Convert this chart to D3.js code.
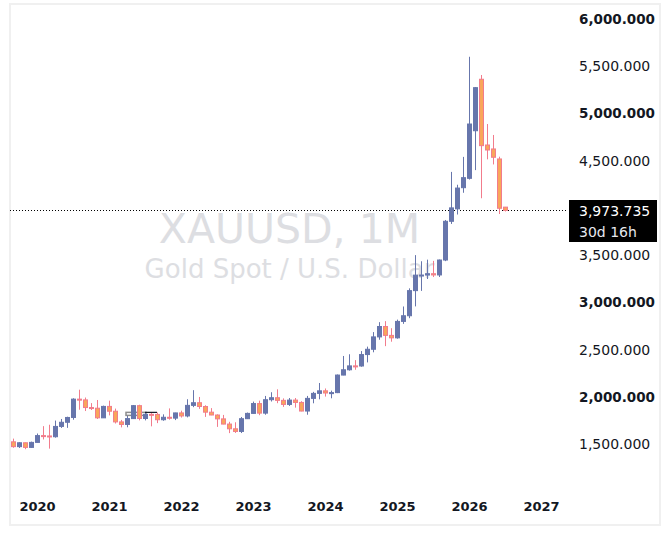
<!DOCTYPE html>
<html>
<head>
<meta charset="utf-8">
<script src="https://cdn.jsdelivr.net/npm/d3@7"></script>
<style>
  body { margin: 0; background: #fff; }
  svg { display: block; font-family: "DejaVu Sans", sans-serif; }
</style>
</head>
<body>
<svg class="chart"></svg>
<script>
// monthly XAUUSD candles
var months = [
  "2019-09","2019-10","2019-11","2019-12",
  "2020-01","2020-02","2020-03","2020-04","2020-05","2020-06","2020-07","2020-08","2020-09","2020-10","2020-11","2020-12",
  "2021-01","2021-02","2021-03","2021-04","2021-05","2021-06","2021-07","2021-08","2021-09","2021-10","2021-11","2021-12",
  "2022-01","2022-02","2022-03","2022-04","2022-05","2022-06","2022-07","2022-08","2022-09","2022-10","2022-11","2022-12",
  "2023-01","2023-02","2023-03","2023-04","2023-05","2023-06","2023-07","2023-08","2023-09","2023-10","2023-11","2023-12",
  "2024-01","2024-02","2024-03","2024-04","2024-05","2024-06","2024-07","2024-08","2024-09","2024-10","2024-11","2024-12",
  "2025-01","2025-02","2025-03","2025-04","2025-05","2025-06","2025-07","2025-08","2025-09","2025-10","2025-11","2025-12",
  "2026-01","2026-02","2026-03","2026-04","2026-05","2026-06","2026-07"
];

var opens = [
  1523, 1472, 1513, 1464,
  1517, 1589, 1585, 1577, 1686, 1730, 1781, 1975, 1967, 1886, 1879, 1777,
  1898, 1847, 1734, 1707, 1769, 1906, 1770, 1814, 1813, 1757, 1783, 1774,
  1829, 1797, 1909, 1937, 1897, 1837, 1807, 1766, 1711, 1661, 1633, 1768,
  1824, 1928, 1827, 1969, 1990, 1962, 1919, 1965, 1940, 1849, 1983, 2036,
  2063, 2040, 2044, 2230, 2286, 2327, 2326, 2447, 2503, 2634, 2744, 2650,
  2624, 2798, 2858, 3124, 3288, 3289, 3303, 3290, 3448, 3858, 3990, 4214,
  4313, 4817, 5362, 4666, 4624, 4518, 4008
];
var highs = [
  1557, 1518, 1516, 1525,
  1611, 1689, 1704, 1748, 1765, 1789, 1984, 2075, 1992, 1933, 1966, 1906,
  1959, 1875, 1755, 1798, 1913, 1916, 1832, 1831, 1834, 1814, 1877, 1831,
  1853, 1974, 2070, 1998, 1910, 1880, 1814, 1808, 1735, 1730, 1786, 1833,
  1949, 1959, 2009, 2048, 2079, 1983, 1987, 1987, 1953, 2009, 2052, 2146,
  2088, 2065, 2236, 2432, 2450, 2388, 2484, 2531, 2685, 2790, 2801, 2726,
  2817, 2956, 3148, 3500, 3435, 3452, 3439, 3453, 3872, 4381, 4245, 4540,
  5600, 5280, 5407, 4888, 4772, 4542, 4010
];
var lows = [
  1460, 1458, 1445, 1459,
  1517, 1548, 1451, 1567, 1670, 1671, 1757, 1863, 1849, 1860, 1765, 1776,
  1803, 1717, 1676, 1677, 1765, 1750, 1750, 1687, 1721, 1746, 1758, 1753,
  1780, 1782, 1890, 1872, 1787, 1805, 1681, 1709, 1615, 1617, 1616, 1765,
  1822, 1805, 1810, 1950, 1932, 1893, 1903, 1885, 1846, 1810, 1931, 1973,
  2002, 1984, 2039, 2228, 2277, 2286, 2318, 2364, 2471, 2604, 2536, 2583,
  2615, 2772, 2832, 2957, 3121, 3247, 3268, 3268, 3436, 3830, 3930, 4160,
  4300, 4400, 4102, 4514, 4460, 3935, 3962
];
var closes = [
  1472, 1513, 1464, 1517,
  1589, 1585, 1577, 1686, 1730, 1781, 1975, 1967, 1886, 1879, 1777, 1898,
  1847, 1734, 1707, 1769, 1906, 1770, 1814, 1813, 1757, 1783, 1774, 1829,
  1797, 1909, 1937, 1897, 1837, 1807, 1766, 1711, 1661, 1633, 1768, 1824,
  1928, 1827, 1969, 1990, 1962, 1919, 1965, 1940, 1849, 1983, 2036, 2063,
  2040, 2044, 2230, 2286, 2327, 2326, 2447, 2503, 2634, 2744, 2650, 2624,
  2798, 2858, 3124, 3288, 3289, 3303, 3290, 3448, 3858, 4000, 4210, 4320,
  4888, 5273, 4659, 4613, 4536, 3996, 3973.735
];

var priceTicks = [1500, 2000, 2500, 3000, 3500, 4500, 5000, 5500, 6000];
var yearTicks = [2020, 2021, 2022, 2023, 2024, 2025, 2026, 2027];
var countdown = "30d 16h";
var symbolTitle = "XAUUSD, 1M";
var symbolName = "Gold Spot / U.S. Dollar";

// little drawing left on the chart (box + line)
var boxMarks = [{from: "2021-04", to: "2021-07", top: 1835, bottom: 1803}];
var lineMarks = [{from: "2021-07", to: "2021-09", price: 1835}];

var W = 670, H = 540;
var pane = {left: 10, right: 567, top: 4, bottom: 490};

var upCol = "#6776ac", downFill = "#f9a65a", downLine = "#f27c8c";

function monthIndex(s) {
  var p = s.split("-");
  return (+p[0] - 2020) * 12 + (+p[1] - 1);
}

var data = months.map(function(m, i) {
  return {m: monthIndex(m), o: opens[i], h: highs[i], l: lows[i], c: closes[i]};
});

var x = d3.scaleLinear().domain([0, 84]).range([37, 541]);
var y = d3.scaleLinear().domain([1500, 6000]).range([444, 19]);

var svg = d3.select(".chart").attr("width", W).attr("height", H);

svg.append("rect")
  .attr("x", 10).attr("y", 4).attr("width", 650).attr("height", 521)
  .attr("fill", "#fff").attr("stroke", "#f0f0f0").attr("stroke-width", 2);

svg.append("clipPath").attr("id", "paneclip")
  .append("rect")
  .attr("x", pane.left).attr("y", pane.top)
  .attr("width", pane.right - pane.left).attr("height", pane.bottom - pane.top);

var plot = svg.append("g").attr("clip-path", "url(#paneclip)");

// watermark
var cx = (pane.left + pane.right) / 2 + 1;
plot.append("text")
  .attr("x", cx).attr("y", 243)
  .attr("text-anchor", "middle")
  .attr("font-size", 41)
  .attr("fill", "#dddee2")
  .text(symbolTitle);
plot.append("text")
  .attr("x", cx).attr("y", 278)
  .attr("text-anchor", "middle")
  .attr("font-size", 26)
  .attr("fill", "#dddee2")
  .text(symbolName);

// current price line
var last = closes[closes.length - 1];
plot.append("line")
  .attr("x1", pane.left).attr("x2", pane.right)
  .attr("y1", Math.round(y(last)) + 0.5).attr("y2", Math.round(y(last)) + 0.5)
  .attr("stroke", "#000").attr("stroke-dasharray", "1,2");

// drawings
plot.selectAll("rect.box").data(boxMarks).enter().append("rect")
  .attr("class", "box")
  .attr("x", function(d) { return x(monthIndex(d.from)) - 1; })
  .attr("width", function(d) { return x(monthIndex(d.to)) - x(monthIndex(d.from)) + 2; })
  .attr("y", function(d) { return y(d.top); })
  .attr("height", function(d) { return y(d.bottom) - y(d.top); })
  .attr("fill", "none").attr("stroke", "#8c8c8c").attr("stroke-width", 1.5);

// candles
var candle = plot.selectAll("g.candle")
  .data(data)
  .enter().append("g")
  .attr("class", "candle")
  .attr("transform", function(d) { return "translate(" + Math.round(x(d.m)) + ",0)"; });

candle.append("line")
  .attr("x1", 0.5).attr("x2", 0.5)
  .attr("y1", function(d) { return y(d.h); })
  .attr("y2", function(d) { return y(d.l); })
  .attr("stroke", function(d) { return d.c >= d.o ? upCol : downLine; })
  .attr("stroke-width", 1);

candle.append("rect")
  .attr("x", -1.5).attr("width", 4)
  .attr("y", function(d) { return y(Math.max(d.o, d.c)); })
  .attr("height", function(d) { return Math.max(1, Math.abs(y(d.o) - y(d.c))); })
  .attr("fill", function(d) { return d.c >= d.o ? upCol : downFill; })
  .attr("stroke", function(d) { return d.c >= d.o ? upCol : downLine; })
  .attr("stroke-width", 1);

plot.selectAll("line.mark").data(lineMarks).enter().append("line")
  .attr("class", "mark")
  .attr("x1", function(d) { return x(monthIndex(d.from)); })
  .attr("x2", function(d) { return x(monthIndex(d.to)); })
  .attr("y1", function(d) { return y(d.price); })
  .attr("y2", function(d) { return y(d.price); })
  .attr("stroke", "#131722").attr("stroke-width", 1.2);

// price scale
var yAxis = d3.axisRight(y)
  .tickValues(priceTicks)
  .tickSize(0)
  .tickPadding(0)
  .tickFormat(d3.format(",.3f"));

var ya = svg.append("g")
  .attr("transform", "translate(579,0)")
  .call(yAxis);
ya.select(".domain").remove();
ya.selectAll("text")
  .attr("font-family", "DejaVu Sans")
  .attr("font-size", function(d) { return d % 1000 === 0 ? 13.5 : 14; })
  .attr("fill", "#131722")
  .attr("font-weight", function(d) { return d % 1000 === 0 ? "bold" : "normal"; });

// last price label
var lab = svg.append("g").attr("transform", "translate(569," + 200 + ")");
lab.append("rect").attr("width", 88).attr("height", 42).attr("fill", "#000");
lab.append("text")
  .attr("x", 10).attr("y", 11).attr("dy", "0.35em")
  .attr("font-size", 14).attr("fill", "#fff")
  .text(d3.format(",.3f")(last));
lab.append("text")
  .attr("x", 10).attr("y", 32).attr("dy", "0.35em")
  .attr("font-size", 14).attr("fill", "#e6e8ee")
  .text(countdown);

// time scale
var xAxis = d3.axisBottom(x)
  .tickValues(yearTicks.map(function(yr) { return (yr - 2020) * 12; }))
  .tickSize(0)
  .tickFormat(function(i) { return 2020 + i / 12; });

var xa = svg.append("g")
  .attr("transform", "translate(0,506)")
  .call(xAxis);
xa.select(".domain").remove();
xa.selectAll("text")
  .attr("y", 0).attr("dy", "0.35em")
  .attr("font-family", "DejaVu Sans")
  .attr("font-size", 13)
  .attr("font-weight", "bold")
  .attr("fill", "#131722");
</script>
</body>
</html>
